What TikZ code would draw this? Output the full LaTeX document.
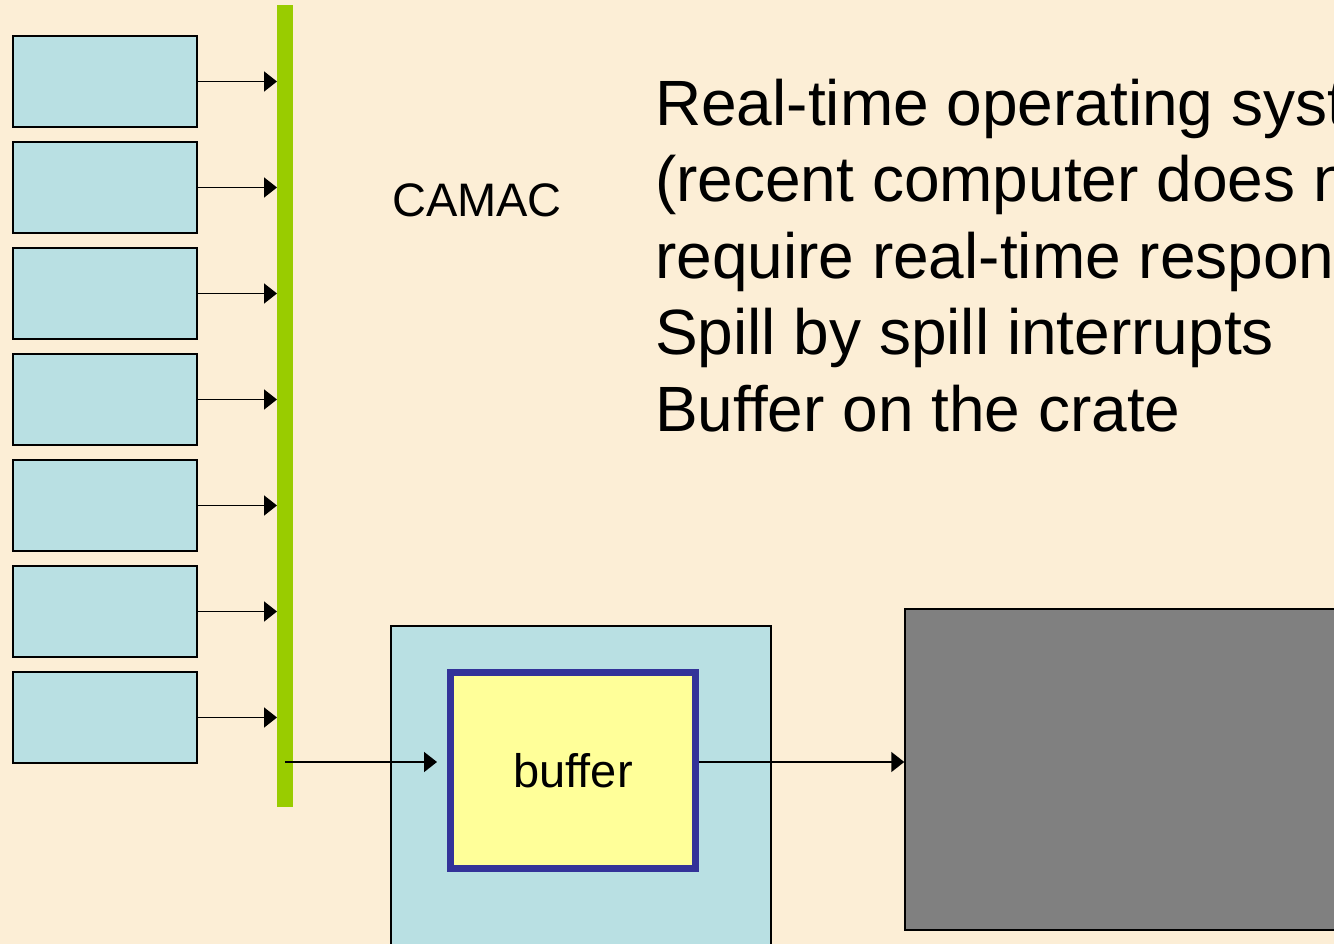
\documentclass[tikz,border=0pt]{standalone}
\usepackage{fontspec}
\setmainfont{Liberation Sans}
\usetikzlibrary{arrows.meta}
\definecolor{parch}{RGB}{252,238,214}
\definecolor{modblue}{RGB}{185,224,227}
\definecolor{bargreen}{RGB}{153,204,0}
\definecolor{bufyellow}{RGB}{255,255,153}
\definecolor{bufborder}{RGB}{51,51,153}
\definecolor{pcgray}{RGB}{128,128,128}
\tikzset{
  module/.style={draw=black, line width=1.5pt, fill=modblue, minimum width=184pt, minimum height=91pt, inner sep=0pt},
  arr/.style={line width=1.8pt, -{Triangle[length=13pt,width=20pt]}},
  bigtext/.style={font=\fontsize{64}{76.5}\selectfont, align=left, inner sep=0pt},
  midtext/.style={font=\fontsize{47}{56}\selectfont, inner sep=0pt}
}
\begin{document}
\begin{tikzpicture}[x=1pt,y=-1pt]
\useasboundingbox (0,0) rectangle (1334,944);
\clip (0,0) rectangle (1334,944);
\fill[parch] (0,0) rectangle (1334,944);
% modules
\foreach \i/\y in {1/81.5,2/187.5,3/293.5,4/399.5,5/505.5,6/611.5,7/717.5}{
  \node[module] (m\i) at (105,\y) {};
}
% green bus bar
\node[fill=bargreen, minimum width=16pt, minimum height=802pt, inner sep=0pt, outer sep=0pt] (bar) at (285,406) {};
\foreach \i in {1,...,7}{
  \draw[arr] (m\i.east) -- (m\i.east -| bar.west);
}
% CAMAC label
\node[midtext, anchor=base west] (camac) at (392,217) {CAMAC};
% crate box
\node[draw=black, line width=1.5pt, fill=modblue, minimum width=380pt, minimum height=334pt, inner sep=0pt] (crate) at (581,793) {};
% buffer
\node[draw=bufborder, line width=7pt, fill=bufyellow, minimum width=245pt, minimum height=196pt, inner sep=0pt] (buf) at (573,770.5) {};
\node[midtext, anchor=base] (buftext) at (573,787) {buffer};
% gray computer box
\node[draw=black, line width=1.5pt, fill=pcgray, minimum width=445pt, minimum height=321pt, inner sep=0pt] (pc) at (1127.5,769.5) {};
% connectors
\coordinate (lvl) at (0,762);
\draw[arr] (bar.center |- lvl) -- ([xshift=-10pt]buf.west |- lvl);
\draw[arr] (buf.east |- lvl) -- (pc.west |- lvl);
% main text (anchored at the baseline of its last line)
\node[bigtext, anchor=base west] (txt) at (655,431) {Real-time operating system\\(recent computer does not\\require real-time response)\\Spill by spill interrupts\\Buffer on the crate};
\end{tikzpicture}
\end{document}
